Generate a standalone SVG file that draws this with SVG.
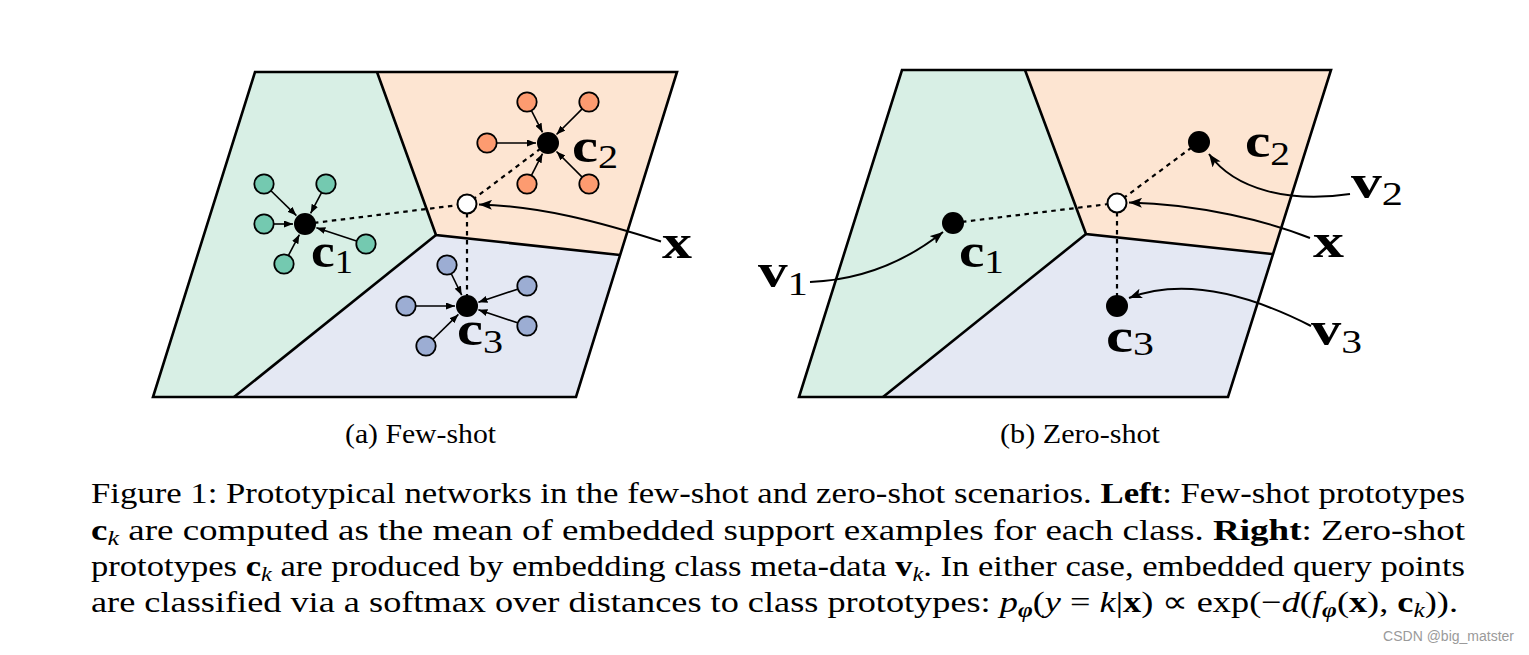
<svg xmlns="http://www.w3.org/2000/svg" width="1529" height="655" viewBox="0 0 1529 655">
<style>
.reg{stroke:none}
.g{fill:#d8efe5}.o{fill:#fde5d2}.b{fill:#e4e8f3}
.edge{fill:none;stroke:#000;stroke-width:2.6;stroke-linejoin:miter}
.sg{fill:#74c9b0;stroke:#000;stroke-width:1.8}
.so{fill:#fd9b70;stroke:#000;stroke-width:1.8}
.sb{fill:#9cadd3;stroke:#000;stroke-width:1.8}
.dot{fill:#000}
.q{fill:#fff;stroke:#000;stroke-width:2}
.arr{stroke:#000;stroke-width:1.6;fill:none;marker-end:url(#ah)}
.dash{stroke:#000;stroke-width:2.2;stroke-dasharray:4.5 4.5;fill:none}
.curve{stroke:#000;stroke-width:2;fill:none;marker-end:url(#big)}
</style>
<defs>
<marker id="ah" markerUnits="userSpaceOnUse" markerWidth="9" markerHeight="7" refX="9" refY="3.5" orient="auto"><path d="M0,0 L9,3.5 L0,7 z" fill="#000"/></marker>
<marker id="big" markerUnits="userSpaceOnUse" markerWidth="13" markerHeight="10" refX="13" refY="5" orient="auto"><path d="M0,0 L13,5 L0,10 L3,5 z" fill="#000"/></marker>
</defs>
<rect width="1529" height="655" fill="#fff"/>

<g id="panel-a">
<polygon class="reg g" points="255,72 377,72 436,235 234,397 153,397"/>
<polygon class="reg o" points="377,72 677,72 620,255 436,235"/>
<polygon class="reg b" points="436,235 620,255 576,397 234,397"/>
<polygon class="edge" points="255,72 677,72 576,397 153,397"/>
<polyline class="edge" points="377,72 436,235 620,255"/>
<line class="edge" x1="436" y1="235" x2="234" y2="397"/>
</g>

<g id="panel-b">
<polygon class="reg g" points="902,70 1025,70 1086,234 883,397 799,397"/>
<polygon class="reg o" points="1025,70 1331,70 1272,254 1086,234"/>
<polygon class="reg b" points="1086,234 1272,254 1228,397 883,397"/>
<polygon class="edge" points="902,70 1331,70 1228,397 799,397"/>
<polyline class="edge" points="1025,70 1086,234 1272,254"/>
<line class="edge" x1="1086" y1="234" x2="883" y2="397"/>
</g>

<g id="connectors">
<line class="dash" x1="305" y1="224" x2="467" y2="204"/>
<line class="dash" x1="548" y1="143" x2="467" y2="204"/>
<line class="dash" x1="467" y1="204" x2="467" y2="306"/>
<line class="arr" x1="271.2" y1="191" x2="296.4" y2="215.6"/>
<line class="arr" x1="321.4" y1="192.9" x2="310.6" y2="213.4"/>
<line class="arr" x1="274" y1="224" x2="293" y2="224"/>
<line class="arr" x1="356.5" y1="240.9" x2="316.4" y2="227.7"/>
<line class="arr" x1="288.6" y1="255.1" x2="299.4" y2="234.6"/>
<line class="arr" x1="531.6" y1="110.9" x2="542.5" y2="132.3"/>
<line class="arr" x1="581.9" y1="109.1" x2="556.5" y2="134.5"/>
<line class="arr" x1="497" y1="143" x2="536" y2="143"/>
<line class="arr" x1="531.6" y1="175.1" x2="542.5" y2="153.7"/>
<line class="arr" x1="581.9" y1="176.9" x2="556.5" y2="151.5"/>
<line class="arr" x1="451.4" y1="274" x2="461.7" y2="295.2"/>
<line class="arr" x1="517.5" y1="289.2" x2="478.4" y2="302.2"/>
<line class="arr" x1="416" y1="306" x2="455" y2="306"/>
<line class="arr" x1="517.5" y1="322.8" x2="478.4" y2="309.8"/>
<line class="arr" x1="433.2" y1="339" x2="458.4" y2="314.4"/>
<path class="curve" d="M661,241.5 C600,222 540,206 479,204.5"/>
<line class="dash" x1="953" y1="223" x2="1117" y2="203"/>
<line class="dash" x1="1199" y1="142" x2="1117" y2="203"/>
<line class="dash" x1="1117" y1="203" x2="1117" y2="306"/>
<path class="curve" d="M810,282 C860,280 905,262 943,232"/>
<path class="curve" d="M1350,194 C1290,203 1235,190 1209,154"/>
<path class="curve" d="M1310,238 C1270,222 1200,204 1129,202.5"/>
<path class="curve" d="M1311,326 C1260,300 1190,275 1129,298"/>
</g>

<g id="support-1">
<circle class="sg" cx="264" cy="184" r="9.7"/>
<circle class="sg" cx="326" cy="184" r="9.7"/>
<circle class="sg" cx="264" cy="224" r="9.7"/>
<circle class="sg" cx="366" cy="244" r="9.7"/>
<circle class="sg" cx="284" cy="264" r="9.7"/>
</g>
<g id="support-2">
<circle class="so" cx="527" cy="102" r="9.7"/>
<circle class="so" cx="589" cy="102" r="9.7"/>
<circle class="so" cx="487" cy="143" r="9.7"/>
<circle class="so" cx="527" cy="184" r="9.7"/>
<circle class="so" cx="589" cy="184" r="9.7"/>
</g>
<g id="support-3">
<circle class="sb" cx="447" cy="265" r="9.7"/>
<circle class="sb" cx="527" cy="286" r="9.7"/>
<circle class="sb" cx="406" cy="306" r="9.7"/>
<circle class="sb" cx="527" cy="326" r="9.7"/>
<circle class="sb" cx="426" cy="346" r="9.7"/>
</g>

<g font-family="Liberation Serif, Times New Roman, serif" fill="#000">
<g id="a-c1"><circle class="dot" cx="305" cy="224" r="11"/><text font-weight="bold" font-size="48" x="311" y="266.5" textLength="42" lengthAdjust="spacingAndGlyphs">c<tspan font-weight="normal" font-size="33" dy="6.5">1</tspan></text></g>
<g id="a-c2"><circle class="dot" cx="548" cy="143" r="11"/><text font-weight="bold" font-size="48" x="572" y="161.5" textLength="46" lengthAdjust="spacingAndGlyphs">c<tspan font-weight="normal" font-size="33" dy="6">2</tspan></text></g>
<g id="a-c3"><circle class="dot" cx="467" cy="306" r="11"/><text font-weight="bold" font-size="48" x="457" y="345" textLength="46" lengthAdjust="spacingAndGlyphs">c<tspan font-weight="normal" font-size="33" dy="8">3</tspan></text></g>
<g id="a-x"><circle class="q" cx="467" cy="204" r="9.5"/><text font-weight="bold" font-size="48" x="662" y="258" textLength="30" lengthAdjust="spacingAndGlyphs">x</text></g>

<g id="b-c1"><circle class="dot" cx="953" cy="223" r="11"/><text font-weight="bold" font-size="48" x="959" y="267" textLength="45" lengthAdjust="spacingAndGlyphs">c<tspan font-weight="normal" font-size="33" dy="6">1</tspan></text></g>
<g id="b-c2"><circle class="dot" cx="1199" cy="142" r="11"/><text font-weight="bold" font-size="48" x="1245" y="157" textLength="45" lengthAdjust="spacingAndGlyphs">c<tspan font-weight="normal" font-size="33" dy="8">2</tspan></text></g>
<g id="b-c3"><circle class="dot" cx="1117" cy="306" r="11"/><text font-weight="bold" font-size="48" x="1106" y="352" textLength="48" lengthAdjust="spacingAndGlyphs">c<tspan font-weight="normal" font-size="33" dy="3">3</tspan></text></g>
<g id="b-x"><circle class="q" cx="1117" cy="203" r="9.5"/><text font-weight="bold" font-size="48" x="1313" y="256.5" textLength="31" lengthAdjust="spacingAndGlyphs">x</text></g>
<g id="b-v1"><text font-weight="bold" font-size="48" x="758" y="287" textLength="50" lengthAdjust="spacingAndGlyphs">v<tspan font-weight="normal" font-size="33" dy="8">1</tspan></text></g>
<g id="b-v2"><text font-weight="bold" font-size="48" x="1351" y="198" textLength="52" lengthAdjust="spacingAndGlyphs">v<tspan font-weight="normal" font-size="33" dy="7">2</tspan></text></g>
<g id="b-v3"><text font-weight="bold" font-size="48" x="1311" y="345" textLength="51" lengthAdjust="spacingAndGlyphs">v<tspan font-weight="normal" font-size="33" dy="8">3</tspan></text></g>

<g id="subcaptions" font-size="28">
<text x="345" y="443" textLength="151" lengthAdjust="spacingAndGlyphs">(a) Few-shot</text>
<text x="1000" y="443" textLength="160" lengthAdjust="spacingAndGlyphs">(b) Zero-shot</text>
</g>

<g id="caption" font-size="30">
<text x="91" y="503" textLength="1374" lengthAdjust="spacingAndGlyphs">Figure 1: Prototypical networks in the few-shot and zero-shot scenarios. <tspan font-weight="bold">Left</tspan>: Few-shot prototypes</text>
<text x="91" y="539.5" textLength="1374" lengthAdjust="spacingAndGlyphs"><tspan font-weight="bold">c</tspan><tspan font-style="italic" font-size="21" dy="5">k</tspan><tspan dy="-5"> are computed as the mean of embedded support examples for each class.  </tspan><tspan font-weight="bold">Right</tspan>: Zero-shot</text>
<text x="91" y="576" textLength="1374" lengthAdjust="spacingAndGlyphs">prototypes <tspan font-weight="bold">c</tspan><tspan font-style="italic" font-size="21" dy="5">k</tspan><tspan dy="-5"> are produced by embedding class meta-data </tspan><tspan font-weight="bold">v</tspan><tspan font-style="italic" font-size="21" dy="5">k</tspan><tspan dy="-5">. In either case, embedded query points</tspan></text>
<text x="91" y="612" textLength="1367" lengthAdjust="spacingAndGlyphs">are classified via a softmax over distances to class prototypes: <tspan font-style="italic">p</tspan><tspan font-style="italic" font-weight="bold" font-size="21" dy="5">φ</tspan><tspan dy="-5">(</tspan><tspan font-style="italic">y</tspan> = <tspan font-style="italic">k</tspan>|<tspan font-weight="bold">x</tspan>) ∝ exp(−<tspan font-style="italic">d</tspan>(<tspan font-style="italic">f</tspan><tspan font-style="italic" font-weight="bold" font-size="21" dy="5">φ</tspan><tspan dy="-5">(</tspan><tspan font-weight="bold">x</tspan>), <tspan font-weight="bold">c</tspan><tspan font-style="italic" font-size="21" dy="5">k</tspan><tspan dy="-5">)).</tspan></text>
</g>
</g>

<text x="1514" y="641" text-anchor="end" font-family="Liberation Sans, sans-serif" font-size="14" fill="#9a9a9a">CSDN @big_matster</text>
</svg>
